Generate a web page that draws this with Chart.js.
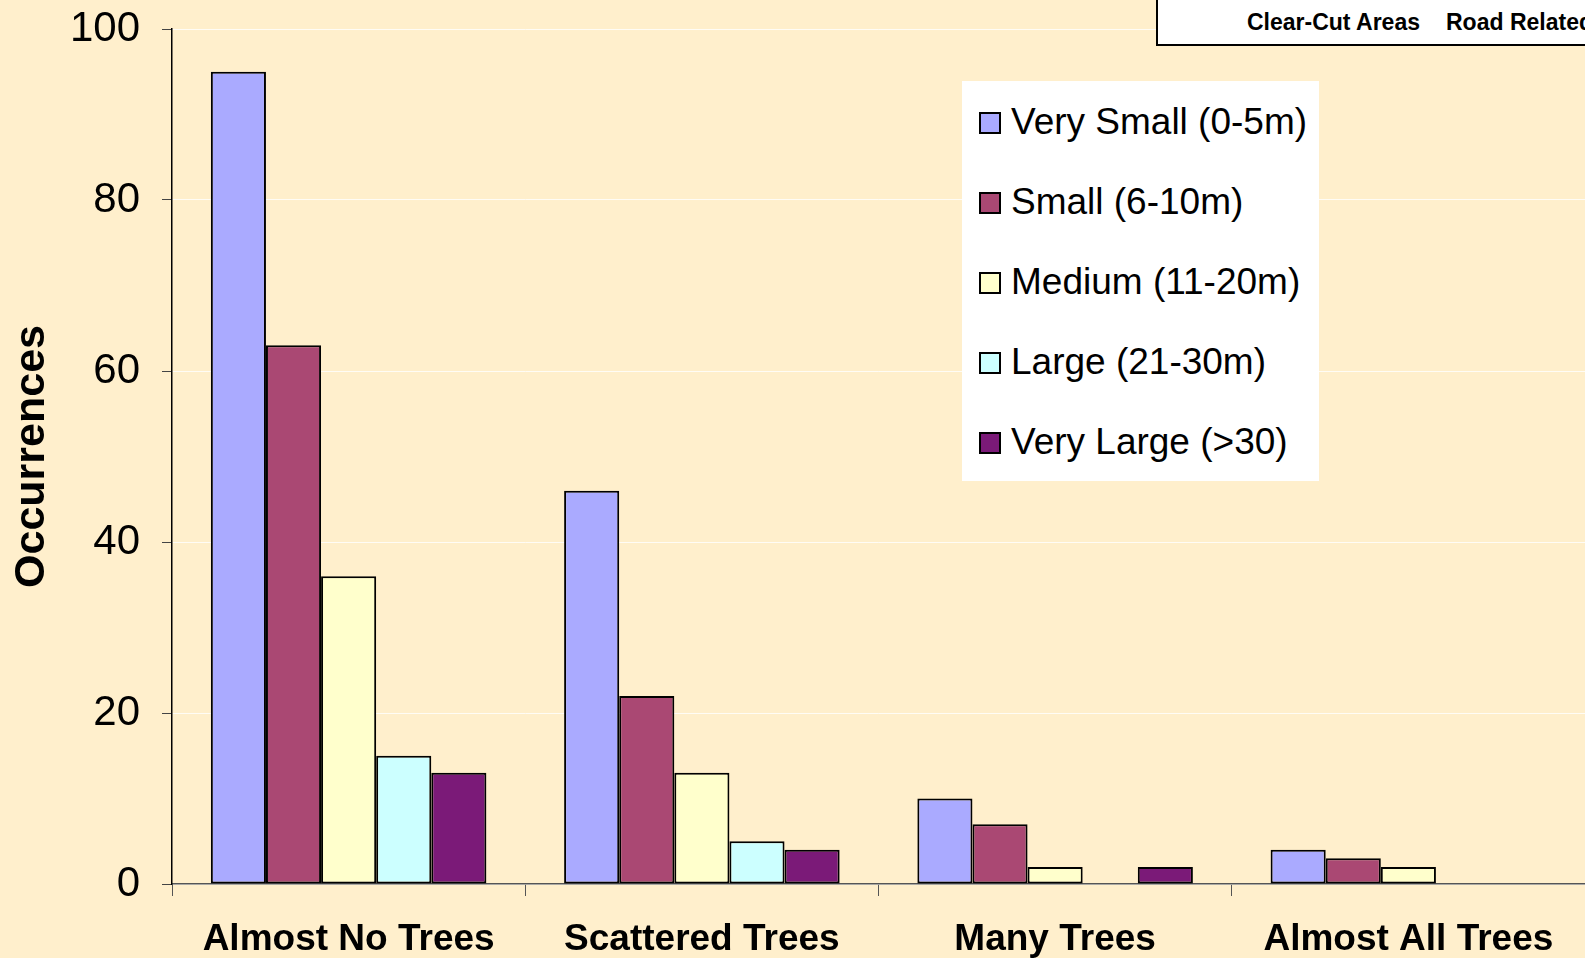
<!DOCTYPE html>
<html>
<head>
<meta charset="utf-8">
<script src="https://cdn.jsdelivr.net/npm/chart.js@4/dist/chart.umd.min.js"></script>
<style>
  html, body { margin: 0; padding: 0; background: #FFEFCC; overflow: hidden; }
  #wrap { position: relative; width: 1585px; height: 958px; }
  #chart { position: absolute; left: 0; top: 0; }
  .topbox {
    position: absolute; left: 1156px; top: -2px; width: 440px; height: 48px;
    background: #fff; border: 2px solid #000; box-sizing: border-box;
    font-family: "Liberation Sans", Arial, sans-serif; font-weight: bold; font-size: 23px;
    white-space: nowrap;
  }
  .topbox span { position: absolute; top: 9px; }
  #legend {
    position: absolute; left: 962px; top: 81px; width: 357px; height: 400px;
    background: #fff;
    font-family: "Liberation Sans", Arial, sans-serif; font-size: 37px; color: #000;
  }
  .item { position: absolute; left: 17px; height: 40px; white-space: nowrap; }
  .item i {
    position: absolute; left: 0; top: 10px; width: 22px; height: 22px;
    border: 2px solid #000; box-sizing: border-box;
  }
  .item span { position: absolute; left: 32px; top: 0; line-height: 40px; }
</style>
</head>
<body>
<div id="wrap">
  <canvas id="chart" width="1585" height="958"></canvas>
  <div class="topbox"><span style="left:89px">Clear-Cut Areas</span><span style="left:288px">Road Related</span></div>
  <div id="legend"></div>
</div>
<script>
// 数据
const categories = ['Almost No Trees', 'Scattered Trees', 'Many Trees', 'Almost All Trees'];
const seriesNames = ['Very Small (0-5m)', 'Small (6-10m)', 'Medium (11-20m)', 'Large (21-30m)', 'Very Large (>30)'];
const verySmall = [95, 46, 10, 4];
const small = [63, 22, 7, 3];
const medium = [36, 13, 2, 2];
const large = [15, 5, 0, 0];
const veryLarge = [13, 4, 2, 0];
const yTicks = [0, 20, 40, 60, 80, 100];

const colors = ['#AAAAFF', '#AA4873', '#FFFFCC', '#CCFFFF', '#7B1A78'];
const FONT = '"Liberation Sans", Arial, sans-serif';

const values = [verySmall, small, medium, large, veryLarge];
const datasets = values.map((v, i) => ({
    label: seriesNames[i],
    data: v,
    backgroundColor: colors[i],
    borderColor: '#000',
    borderWidth: 2,
    borderSkipped: false,
    categoryPercentage: 0.78,
    barPercentage: 1.0
}));

new Chart(document.getElementById('chart'), {
    type: 'bar',
    data: { labels: categories, datasets: datasets },
    options: {
        responsive: false,
        animation: false,
        layout: { padding: { top: 29, left: 0, right: 0, bottom: 0 } },
        plugins: { legend: { display: false }, tooltip: { enabled: false } },
        scales: {
            x: {
                grid: { offset: true, drawOnChartArea: false, drawTicks: true, tickLength: 12, tickColor: '#555', tickWidth: 1 },
                border: { color: '#555', width: 1.5 },
                ticks: { font: { family: FONT, size: 37, weight: 'bold' }, color: '#000', padding: 22, maxRotation: 0, autoSkip: false },
                afterFit: s => { s.height = 74; }
            },
            y: {
                min: 0,
                max: 100,
                afterBuildTicks: s => { s.ticks = yTicks.map(v => ({ value: v })); },
                // lineHeight 很小，避免为顶部标签额外留白
                ticks: { font: { family: FONT, size: 42, lineHeight: 0.1 }, color: '#000', padding: 22 },
                grid: { color: 'rgba(255,255,255,0.8)', tickColor: '#444', tickLength: 10, lineWidth: 1 },
                border: { color: '#000', width: 1.5 },
                title: { display: true, text: 'Occurrences', color: '#000', font: { family: FONT, size: 43, weight: 'bold' }, padding: { top: 6, bottom: 0 } },
                afterFit: s => { s.width = 172; }
            }
        }
    }
});

// 图例
const legend = document.getElementById('legend');
seriesNames.forEach((name, i) => {
    const el = document.createElement('div');
    el.className = 'item';
    el.style.top = (21 + i * 80) + 'px';
    el.innerHTML = '<i style="background:' + colors[i] + '"></i><span>' + name + '</span>';
    legend.appendChild(el);
});
</script>
</body>
</html>
